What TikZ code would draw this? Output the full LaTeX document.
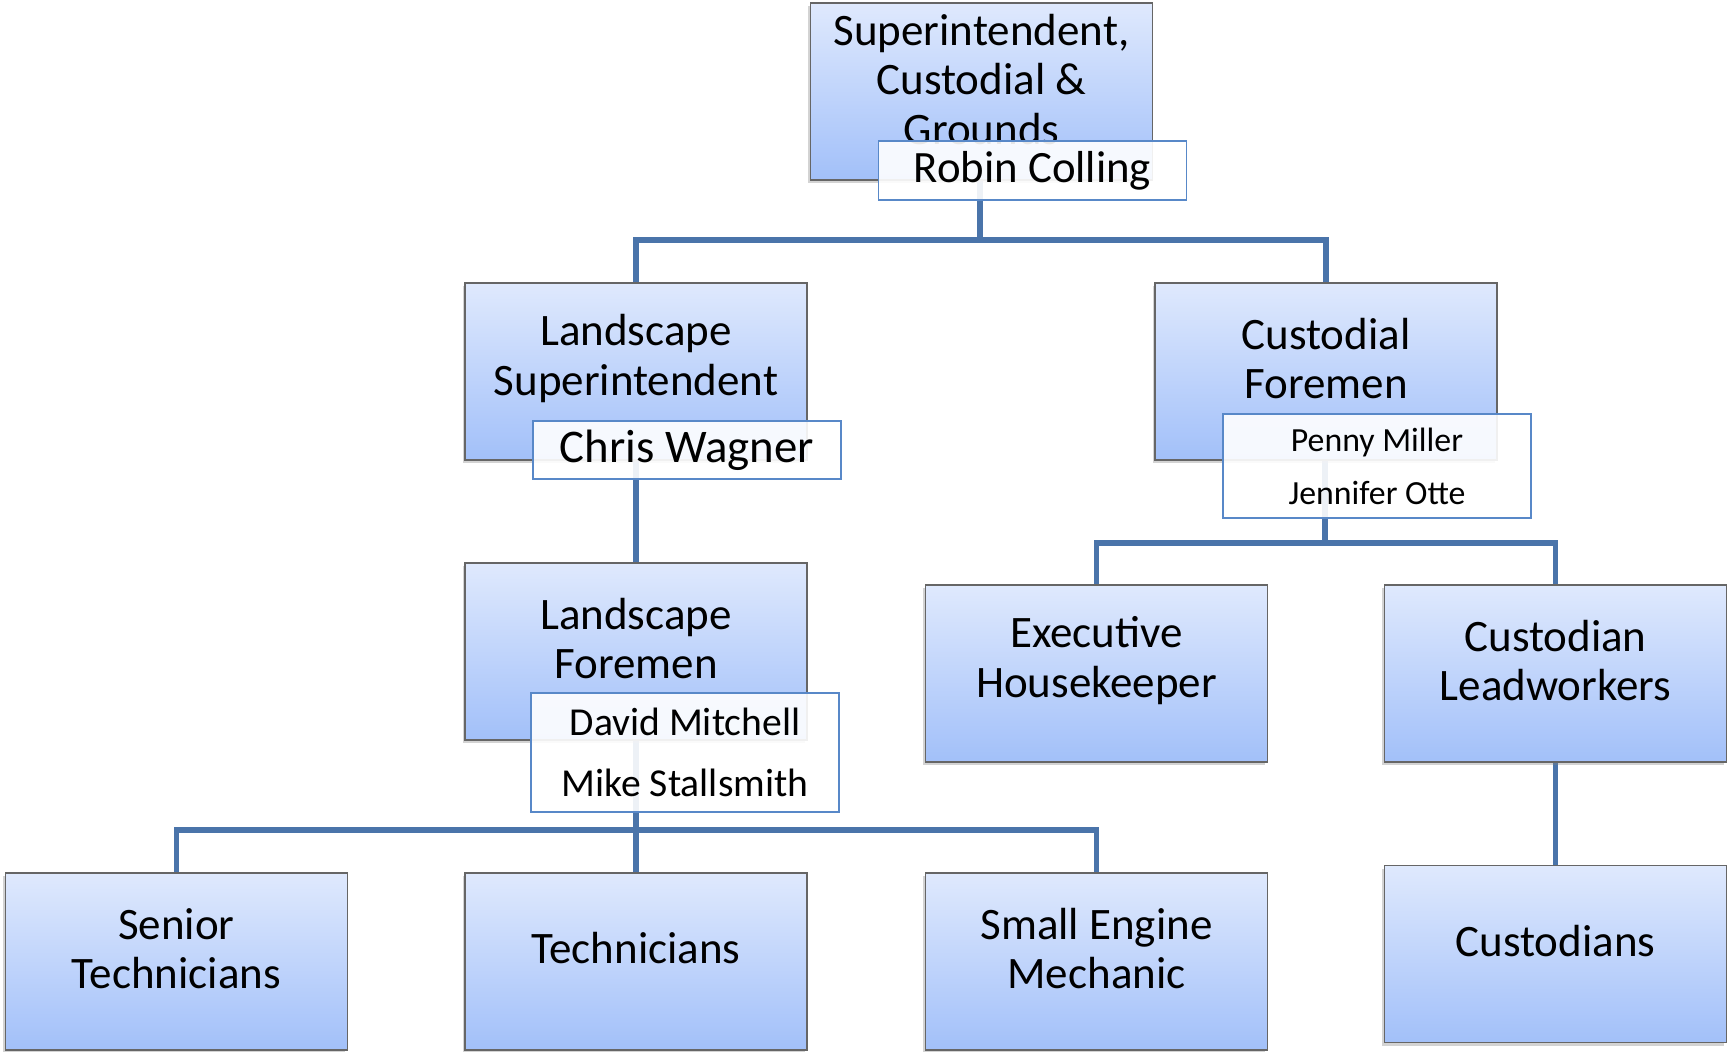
\documentclass[tikz,border=0pt]{standalone}
\usepackage{fontspec}
\setmainfont{Carlito}
\usetikzlibrary{shadows}
\definecolor{boxtop}{RGB}{223,233,253}
\definecolor{boxbot}{RGB}{162,192,249}
\definecolor{conncol}{RGB}{74,116,170}
\definecolor{namecol}{RGB}{88,136,200}
\begin{document}
\begin{tikzpicture}[x=0.5pt,y=-0.5pt,
  mainbox/.style={rectangle, draw=gray!80!black, line width=0.6pt,
    top color=boxtop, bottom color=boxbot,
    minimum width=171pt, minimum height=88.5pt, inner sep=0pt,
    drop shadow={shadow xshift=-1.2pt, shadow yshift=-1.5pt, opacity=0.35}},
  boxtext/.style={align=center, inner sep=0pt, font=\fontsize{22.5}{24.8}\selectfont},
  namebox/.style={rectangle, draw=namecol, line width=0.9pt, fill=white, fill opacity=0.9,
    text opacity=1, minimum width=154pt, inner sep=0pt, align=center},
  conn/.style={draw=conncol, line width=2.6pt}]
\useasboundingbox (0,0) rectangle (1727,1052);

% bus coordinates
\coordinate (bus1) at (980,240);
\coordinate (bus2) at (1325,543);
\coordinate (bus3) at (636,830);

% main boxes (positions)
\path (981.5,91.5) coordinate (pt-top);
\path (636,371.5) coordinate (pt-ls);
\path (1326,371.5) coordinate (pt-cf);
\path (636,651.5) coordinate (pt-lf);
\path (1096.5,673.5) coordinate (pt-eh);
\path (1555.5,673.5) coordinate (pt-cl);
\path (176.5,961.5) coordinate (pt-st);
\path (636,961.5) coordinate (pt-tech);
\path (1096.5,961.5) coordinate (pt-sem);
\path (1555.5,954) coordinate (pt-cus);

% invisible anchors for connectors
\node[minimum width=171pt, minimum height=88.5pt, inner sep=0pt] (top) at (pt-top) {};
\node[minimum width=171pt, minimum height=88.5pt, inner sep=0pt] (ls) at (pt-ls) {};
\node[minimum width=171pt, minimum height=88.5pt, inner sep=0pt] (cf) at (pt-cf) {};
\node[minimum width=171pt, minimum height=88.5pt, inner sep=0pt] (lf) at (pt-lf) {};
\node[minimum width=171pt, minimum height=88.5pt, inner sep=0pt] (eh) at (pt-eh) {};
\node[minimum width=171pt, minimum height=88.5pt, inner sep=0pt] (cl) at (pt-cl) {};
\node[minimum width=171pt, minimum height=88.5pt, inner sep=0pt] (st) at (pt-st) {};
\node[minimum width=171pt, minimum height=88.5pt, inner sep=0pt] (tech) at (pt-tech) {};
\node[minimum width=171pt, minimum height=88.5pt, inner sep=0pt] (sem) at (pt-sem) {};
\node[minimum width=171pt, minimum height=88.5pt, inner sep=0pt] (cus) at (pt-cus) {};

% connectors
\draw[conn] (top.south -| bus1) -- (bus1) -| (ls.north);
\draw[conn] (bus1) -| (cf.north);
\draw[conn] (ls.south) -- (lf.north);
\draw[conn] (cf.south -| bus2) -- (bus2) -| (eh.north);
\draw[conn] (bus2) -| (cl.north);
\draw[conn] (lf.south) -- (tech.north);
\draw[conn] (bus3) -| (st.north);
\draw[conn] (bus3) -| (sem.north);
\draw[conn] (cl.south) -- (cus.north);

% boxes
\node[mainbox] (b-top) at (pt-top) {};
\node[mainbox] (b-ls) at (pt-ls) {};
\node[mainbox] (b-cf) at (pt-cf) {};
\node[mainbox] (b-lf) at (pt-lf) {};
\node[mainbox] (b-eh) at (pt-eh) {};
\node[mainbox] (b-cl) at (pt-cl) {};
\node[mainbox] (b-st) at (pt-st) {};
\node[mainbox] (b-tech) at (pt-tech) {};
\node[mainbox] (b-sem) at (pt-sem) {};
\node[mainbox] (b-cus) at (pt-cus) {};

% box texts
\node[boxtext, anchor=center] (t-top) at ([yshift=6pt]b-top.center) {Superintendent,\\Custodial \&\\Grounds};
\node[boxtext] (t-ls) at ([yshift=6.5pt]b-ls.center) {Landscape\\Superintendent};
\node[boxtext] (t-cf) at ([yshift=6.5pt]b-cf.center) {Custodial\\Foremen};
\node[boxtext] (t-lf) at ([yshift=6.5pt]b-lf.center) {Landscape\\Foremen};
\node[boxtext] (t-eh) at ([yshift=6.5pt]b-eh.center) {Executive\\Housekeeper};
\node[boxtext] (t-cl) at ([yshift=6.5pt]b-cl.center) {Custodian\\Leadworkers};
\node[boxtext] (t-st) at ([yshift=6.5pt]b-st.center) {Senior\\Technicians};
\node[boxtext] (t-tech) at ([yshift=6.5pt]b-tech.center) {Technicians};
\node[boxtext] (t-sem) at ([yshift=6.5pt]b-sem.center) {Small Engine\\Mechanic};
\node[boxtext] (t-cus) at ([yshift=6.5pt]b-cus.center) {Custodians};

% name boxes
\node[namebox, minimum height=29.5pt, font=\fontsize{22.4}{24}\selectfont] (robin) at (1032.5,170.5) {Robin Colling};
\node[namebox, minimum height=29pt, font=\fontsize{23.4}{24}\selectfont] (chris) at (687,450) {Chris Wagner};
\node[namebox, minimum height=52pt, font=\fontsize{16.9}{26.4}\selectfont] (penny) at (1377,466) {Penny Miller\\Jennifer Otte};
\node[namebox, minimum height=59.5pt, font=\fontsize{19.8}{30.3}\selectfont] (david) at (685,752.5) {David Mitchell\\Mike Stallsmith};
\end{tikzpicture}
\end{document}
